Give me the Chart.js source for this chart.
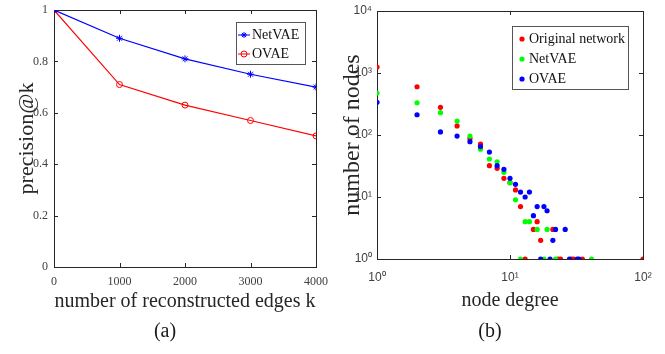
<!DOCTYPE html>
<html lang="en">
<head>
<meta charset="UTF-8">
<title>precision@k and degree distribution</title>
<script src="https://cdn.jsdelivr.net/npm/chart.js"></script>
<style>
  body { margin: 0; background: #fff; font-family: 'Liberation Serif', 'Times New Roman', serif; }
  #wrap { position: relative; width: 665px; height: 354px; overflow: hidden; }
  .box { position: absolute; top: 0; height: 354px; }
  #boxA { left: 0; width: 330px; }
  #boxB { left: 330px; width: 335px; }
  .cap { position: absolute; top: 318px; width: 40px; text-align: center; font-size: 20px; line-height: 24px; color: #1a1a1a; }
</style>
</head>
<body>
<div id="wrap">
  <div class="box" id="boxA"><canvas id="chartA"></canvas></div>
  <div class="box" id="boxB"><canvas id="chartB"></canvas></div>
  <div class="cap" style="left:145px">(a)</div>
  <div class="cap" style="left:470px">(b)</div>
</div>
<script>
// (a) precision@k
const kValues = [0, 1000, 2000, 3000, 4000];
const netvaePrecision = [1, 0.89, 0.81, 0.75, 0.70];
const ovaePrecision = [1, 0.71, 0.63, 0.57, 0.51];
const kTickLabels = ['0', '1000', '2000', '3000', '4000'];
const precisionTickLabels = ['0', '0.2', '0.4', '0.6', '0.8', '1'];

// (b) degree distribution
const originalDegree = [1, 2, 3, 4, 5, 6, 7, 8, 9, 10, 11, 12, 15, 16, 17, 21, 13, 23, 24, 29, 30, 35, 100];
const originalCount  = [1250, 600, 280, 140, 88, 71, 32, 29, 20, 17, 13, 7, 3, 4, 2, 3, 1, 1, 1, 1, 1, 1, 1];
const netvaeDegree = [1, 2, 3, 4, 5, 6, 7, 8, 9, 10, 11, 13, 14, 16, 19, 12, 18, 22, 41];
const netvaeCount  = [475, 331, 229, 168, 96, 59, 41, 37, 25, 17, 9, 4, 4, 3, 3, 1, 1, 1, 1];
const ovaeDegree = [1, 2, 3, 4, 5, 6, 7, 8, 9, 10, 11, 12, 13, 14, 15, 16, 18, 19, 21, 22, 26, 17, 20, 28, 32, 33];
const ovaeCount  = [336, 212, 112, 96, 78, 65, 53, 32, 28, 20, 16, 12, 10, 12, 5, 7, 7, 6, 2, 3, 3, 1, 1, 1, 1, 1];
const degreeTickValues = [1, 10, 100];
const degreeTickLabels = ['10\u2070', '10\u00b9', '10\u00b2'];
const countTickValues = [1, 10, 100, 1000, 10000];
const countTickLabels = ['10\u2070', '10\u00b9', '10\u00b2', '10\u00b3', '10\u2074'];

const serif = "'Liberation Serif', 'Times New Roman', serif";
const sans = "'Liberation Sans', Arial, sans-serif";
const axisColor = '#262626';

function drawMarker(ctx, style, x, y, r, filled) {
    ctx.beginPath();
    if (style === 'star') {
        ctx.moveTo(x - r, y); ctx.lineTo(x + r, y);
        ctx.moveTo(x, y - r); ctx.lineTo(x, y + r);
        const d = r * 0.7;
        ctx.moveTo(x - d, y - d); ctx.lineTo(x + d, y + d);
        ctx.moveTo(x - d, y + d); ctx.lineTo(x + d, y - d);
        ctx.stroke();
    } else {
        ctx.arc(x, y, r, 0, Math.PI * 2);
        if (filled) ctx.fill(); else ctx.stroke();
    }
}

// fixed axis size, no automatic padding for overhanging labels
function fixSize(prop, size) {
    return s => {
        s[prop] = size;
        s.paddingLeft = s.paddingRight = s.paddingTop = s.paddingBottom = 0;
    };
}

// box around the plot area with short ticks pointing inwards on all four sides
const frameTicks = {
    id: 'frameTicks',
    beforeDatasetsDraw(chart) {
        const {ctx, chartArea: a, scales: {x, y}} = chart;
        const len = 4;
        ctx.save();
        ctx.strokeStyle = axisColor;
        ctx.lineWidth = 1;
        ctx.beginPath();
        x.ticks.forEach(t => {
            const px = Math.round(x.getPixelForValue(t.value)) + 0.5;
            ctx.moveTo(px, a.bottom); ctx.lineTo(px, a.bottom - len);
            ctx.moveTo(px, a.top); ctx.lineTo(px, a.top + len);
        });
        y.ticks.forEach(t => {
            const py = Math.round(y.getPixelForValue(t.value)) + 0.5;
            ctx.moveTo(a.left, py); ctx.lineTo(a.left + len, py);
            ctx.moveTo(a.right, py); ctx.lineTo(a.right - len, py);
        });
        ctx.stroke();
        ctx.strokeRect(Math.round(a.left) + 0.5, Math.round(a.top) + 0.5,
                       Math.round(a.right - a.left), Math.round(a.bottom - a.top));
        ctx.restore();
    }
};

// legend drawn inside the plot area, top right
const boxLegend = {
    id: 'boxLegend',
    afterDraw(chart, args, o) {
        const {ctx, chartArea: a} = chart;
        const left = Math.round(a.right - o.right - o.width);
        const top = Math.round(a.top + o.top);
        ctx.save();
        ctx.fillStyle = '#fff';
        ctx.fillRect(left, top, o.width, o.height);
        ctx.strokeStyle = '#555';
        ctx.lineWidth = 1;
        ctx.strokeRect(left + 0.5, top + 0.5, o.width, o.height);
        ctx.font = o.fontSize + 'px ' + serif;
        ctx.textBaseline = 'middle';
        chart.data.datasets.forEach((ds, i) => {
            const cy = top + o.firstRow + i * o.rowH;
            ctx.strokeStyle = ds.pointBorderColor || ds.borderColor;
            ctx.fillStyle = ds.backgroundColor;
            ctx.lineWidth = 1;
            if (o.line) {
                ctx.beginPath();
                ctx.moveTo(left + 2, cy); ctx.lineTo(left + 14, cy);
                ctx.stroke();
            }
            drawMarker(ctx, ds.pointStyle, left + o.markerX, cy, o.markerR, !o.line);
            ctx.fillStyle = '#111';
            ctx.fillText(ds.label, left + o.textX, cy);
        });
        ctx.restore();
    }
};

const toPoints = (xs, ys) => xs.map((v, i) => ({x: v, y: ys[i]}));

new Chart(document.getElementById('chartA'), {
    type: 'line',
    data: {
        datasets: [
            {
                label: 'NetVAE',
                data: toPoints(kValues, netvaePrecision),
                borderColor: '#0000ff',
                backgroundColor: '#0000ff',
                borderWidth: 1.2,
                pointStyle: 'star',
                pointRadius: 3.5,
                pointBorderColor: '#0000ff',
                pointBorderWidth: 1,
                tension: 0
            },
            {
                label: 'OVAE',
                data: toPoints(kValues, ovaePrecision),
                borderColor: '#ff0000',
                backgroundColor: 'rgba(255,255,255,0)',
                borderWidth: 1.2,
                pointStyle: 'circle',
                pointRadius: 3,
                pointBorderColor: '#ff0000',
                pointBackgroundColor: 'rgba(255,255,255,0)',
                pointBorderWidth: 1,
                tension: 0
            }
        ]
    },
    options: {
        responsive: true,
        maintainAspectRatio: false,
        animation: false,
        events: [],
        layout: { padding: { top: 10, right: 14, bottom: 0, left: 0 } },
        scales: {
            x: {
                type: 'linear',
                min: 0, max: 4000,
                grid: { display: false, drawTicks: false },
                border: { display: false },
                afterBuildTicks: s => { s.ticks = kValues.map(v => ({value: v})); },
                afterFit: fixSize('height', 87),
                ticks: {
                    padding: 8, maxRotation: 0, color: '#404040',
                    font: { family: serif, size: 12 },
                    callback: (v, i) => kTickLabels[i]
                },
                title: {
                    display: true, text: 'number of reconstructed edges k', color: axisColor,
                    font: { family: serif, size: 20 }, padding: { top: 0, bottom: 40 }
                }
            },
            y: {
                min: 0, max: 1,
                grid: { display: false, drawTicks: false },
                border: { display: false },
                afterBuildTicks: s => { s.ticks = precisionTickLabels.map(t => ({value: parseFloat(t)})); },
                afterFit: fixSize('width', 54),
                ticks: {
                    padding: 6, color: '#404040',
                    font: { family: serif, size: 12 },
                    callback: (v, i) => precisionTickLabels[i]
                },
                title: {
                    display: true, text: 'precision@k', color: axisColor,
                    font: { family: serif, size: 22 }, padding: { top: 14, bottom: 0 }
                }
            }
        },
        plugins: {
            legend: { display: false },
            tooltip: { enabled: false },
            boxLegend: {
                right: 11, top: 12, width: 69, height: 42,
                firstRow: 13, rowH: 19, markerX: 8, markerR: 3, textX: 16,
                fontSize: 14, line: true
            }
        }
    },
    plugins: [frameTicks, boxLegend]
});

new Chart(document.getElementById('chartB'), {
    type: 'scatter',
    data: {
        datasets: [
            {
                label: 'Original network',
                data: toPoints(originalDegree, originalCount),
                backgroundColor: '#ff0000',
                borderColor: '#ff0000',
                pointStyle: 'circle',
                pointRadius: 2.6,
                pointBorderWidth: 0,
                order: 2
            },
            {
                label: 'NetVAE',
                data: toPoints(netvaeDegree, netvaeCount),
                backgroundColor: '#00ff00',
                borderColor: '#00ff00',
                pointStyle: 'circle',
                pointRadius: 2.6,
                pointBorderWidth: 0,
                order: 1
            },
            {
                label: 'OVAE',
                data: toPoints(ovaeDegree, ovaeCount),
                backgroundColor: '#0000ff',
                borderColor: '#0000ff',
                pointStyle: 'circle',
                pointRadius: 2.6,
                pointBorderWidth: 0,
                order: 0
            }
        ]
    },
    options: {
        responsive: true,
        maintainAspectRatio: false,
        animation: false,
        events: [],
        layout: { padding: { top: 11, right: 22, bottom: 0, left: 0 } },
        scales: {
            x: {
                type: 'logarithmic',
                min: 1, max: 100,
                grid: { display: false, drawTicks: false },
                border: { display: false },
                afterBuildTicks: s => { s.ticks = degreeTickValues.map(v => ({value: v})); },
                afterFit: fixSize('height', 95),
                ticks: {
                    padding: 11, maxRotation: 0, color: '#404040',
                    font: { family: sans, size: 12 },
                    callback: (v, i) => degreeTickLabels[i]
                },
                title: {
                    display: true, text: 'node degree', color: axisColor,
                    font: { family: serif, size: 20 }, padding: { top: 0, bottom: 41 }
                }
            },
            y: {
                type: 'logarithmic',
                min: 1, max: 10000,
                grid: { display: false, drawTicks: false },
                border: { display: false },
                afterBuildTicks: s => { s.ticks = countTickValues.map(v => ({value: v})); },
                afterFit: fixSize('width', 47),
                ticks: {
                    padding: 5, color: '#404040',
                    font: { family: sans, size: 12 },
                    callback: (v, i) => countTickLabels[i]
                },
                title: {
                    display: true, text: 'number of nodes', color: axisColor,
                    font: { family: serif, size: 24 }, padding: { top: 8, bottom: 0 }
                }
            }
        },
        plugins: {
            legend: { display: false },
            tooltip: { enabled: false },
            boxLegend: {
                right: 15, top: 15, width: 116, height: 63,
                firstRow: 13, rowH: 20, markerX: 10, markerR: 2.6, textX: 17,
                fontSize: 14, line: false
            }
        }
    },
    plugins: [frameTicks, boxLegend]
});
</script>
</body>
</html>
